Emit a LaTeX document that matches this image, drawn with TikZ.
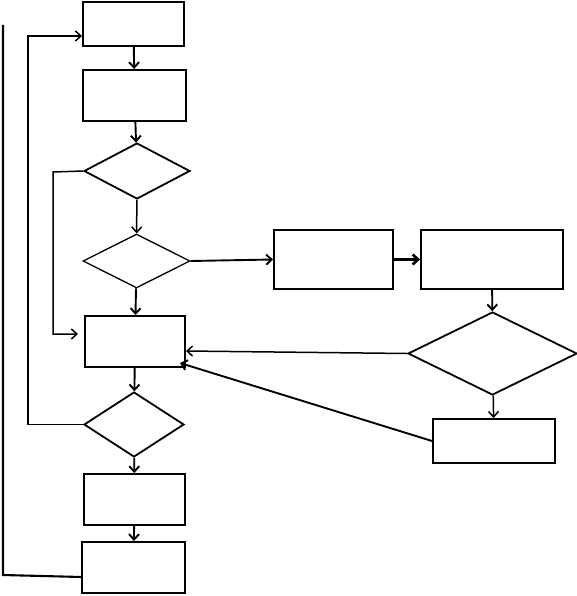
\documentclass[tikz,border=0pt]{standalone}
\usepackage{tikz}
\usetikzlibrary{shapes.geometric,arrows.meta}

\begin{document}
\begin{tikzpicture}[x=1pt,y=-1pt,>={Straight Barb[length=5.5pt,width=10pt]},line width=1.9pt,
    box/.style={draw,rectangle,inner sep=0pt,minimum width=#1},
    box/.default=101pt,
    test/.style={draw,diamond,inner sep=0pt,line width=1.8pt}]
    \useasboundingbox (0,0) rectangle (577,596);

    % main column
    \node[box,minimum height=44pt] (start) at (133.5,24) {};
    \node[box=103pt,minimum height=51pt] (init) at (134.5,95.5) {};
    \node[test,minimum width=106pt,minimum height=56pt] (check) at (137,171) {};
    \node[test,minimum width=107pt,minimum height=54pt,line width=1.3pt] (choose) at (136.5,261) {};
    \node[box=100pt,minimum height=51pt] (work) at (135,341.5) {};
    \node[test,minimum width=100pt,minimum height=65pt] (repeat) at (134,424.5) {};
    \node[box,minimum height=51pt] (store) at (134.5,499.5) {};
    \node[box=103pt,minimum height=51pt] (finish) at (133.5,567.5) {};

    % right branch
    \node[box=119pt,minimum height=59pt] (load) at (333.5,259.5) {};
    \node[box=142pt,minimum height=59pt] (prep) at (492,259.5) {};
    \node[test,minimum width=169pt,minimum height=83pt] (decide) at (492.5,353.5) {};
    \node[box=122pt,minimum height=44pt] (fix) at (494,441) {};

    \draw[->] (start) -- (init);
    \draw[->] (init) -- (check);
    \draw[->,line width=1.5pt] (check) -- (choose);
    \draw[->] (choose) -- (work);
    \draw[->] (work) -- (repeat);
    \draw[->] (repeat) -- (store);
    \draw[->] (store) -- (finish);

    \draw[->] (choose.east) -- (load.west);
    \draw[->,line width=2.6pt] (load) -- (prep);
    \draw[->] (prep) -- (decide);
    \draw[->,line width=1.5pt] (decide) -- (fix);
    \draw[->,line width=1.5pt] (decide.west) -- ([yshift=-9.5pt]work.east);
    \coordinate (workin) at (180,363);
    \draw[->] (fix.west) -- (workin);

    % loops on the left
    \coordinate (workleft) at (78,334);
    \draw[->,line width=1.5pt] (check.west) -- (53,172) -- (53,334) -- (workleft);
    \draw[->,line width=1.5pt] (repeat.west) -- (28,424.5) |- ([yshift=-12pt]start.west);
    \coordinate (outer) at (3,25);
    \draw[line width=2.1pt] ([yshift=-9.5pt]finish.west) -- (3,575) -- (outer);
\end{tikzpicture}
\end{document}
